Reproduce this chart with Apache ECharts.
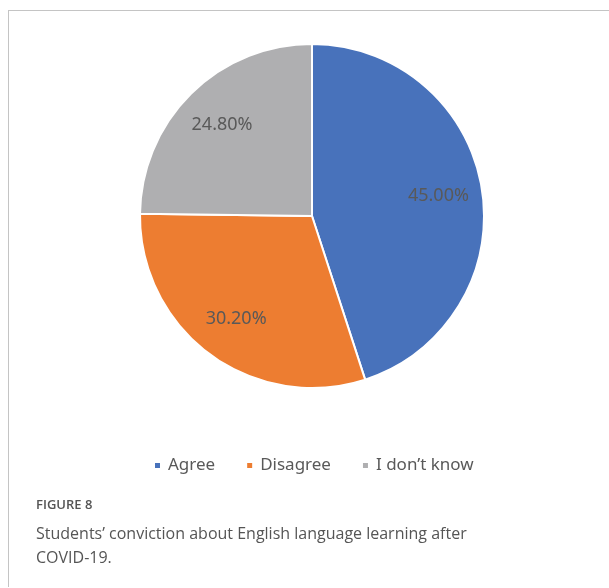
<!DOCTYPE html>
<html>
<head>
<meta charset="utf-8">
<script src="https://cdn.jsdelivr.net/npm/echarts@6/dist/echarts.min.js"></script>
<style>
html, body { margin: 0; padding: 0; background: #fff; }
#frame {
    position: absolute;
    left: 8px;
    top: 10px;
    width: 600px;
    height: 576px;
    border-left: 1px solid #c4c4c4;
    border-top: 1px solid #c4c4c4;
}
#pieCharts {
    position: absolute;
    left: 0;
    top: 0;
    width: 609px;
    height: 588px;
}
</style>
</head>
<body>
<div id="frame"></div>
<div id="pieCharts"></div>
<script>
// answers and their shares (%)
const categories = ['Agree', 'Disagree', 'I don\u2019t know'];
const shares = [45.0, 30.2, 24.8];
const colors = ['#4872bb', '#ed7d31', '#afafb1'];

const pieData = categories.map(function (name, i) {
    return { name: name, value: shares[i] };
});

let charts = echarts.init(document.getElementById('pieCharts'));
let option = {
    animation: false,
    color: colors,
    title: {
        text: 'FIGURE 8',
        subtext: 'Students\u2019 conviction about English language learning after\nCOVID-19.',
        left: 31,
        top: 494,
        itemGap: 10,
        textStyle: {
            fontFamily: 'Open Sans',
            fontSize: 13,
            fontWeight: 600,
            color: '#555'
        },
        subtextStyle: {
            fontFamily: 'Open Sans',
            fontSize: 16,
            fontWeight: 'normal',
            color: '#555',
            lineHeight: 24
        }
    },
    legend: {
        data: categories,
        left: 148,
        top: 452,
        itemWidth: 7,
        itemHeight: 7,
        itemGap: 30,
        icon: 'rect',
        textStyle: {
            fontFamily: 'Noto Sans',
            fontSize: 17,
            color: '#595959',
            padding: [0, 0, 0, 2]
        }
    },
    series: [
        {
            name: 'conviction',
            type: 'pie',
            center: [312, 216],
            radius: 172,
            startAngle: 90,
            clockwise: true,
            silent: true,
            itemStyle: {
                borderColor: '#fff',
                borderWidth: 2
            },
            label: { show: false },
            labelLine: { show: false },
            data: pieData
        },
        {
            // transparent copy, only to place the labels at ~3/4 radius
            name: 'labels',
            type: 'pie',
            center: [312, 216],
            radius: 250,
            startAngle: 90,
            clockwise: true,
            silent: true,
            itemStyle: { color: 'transparent' },
            label: {
                show: true,
                position: 'inside',
                formatter: function (p) {
                    return p.value.toFixed(2) + '%';
                },
                fontFamily: 'Noto Sans',
                fontSize: 18,
                color: '#595959'
            },
            labelLine: { show: false },
            data: pieData
        }
    ]
};
charts.setOption(option, true);
</script>
</body>
</html>
